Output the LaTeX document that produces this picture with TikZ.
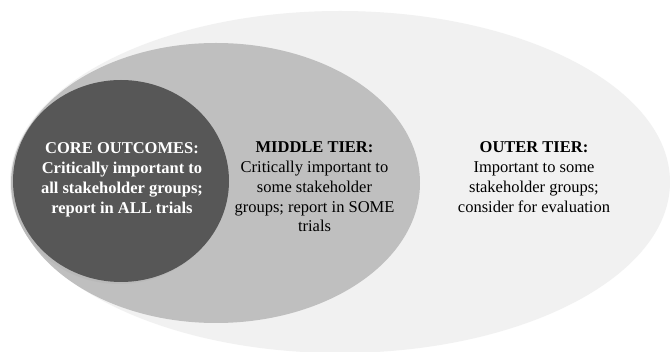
\documentclass[tikz,border=0pt]{standalone}
\usepackage{fontspec}
\setmainfont{Liberation Serif}
\definecolor{outerfill}{HTML}{F1F1F1}
\definecolor{midfill}{HTML}{BFBFBF}
\definecolor{corefill}{HTML}{575757}
\tikzset{
  tierlabel/.style={align=center, anchor=north, inner sep=0pt,
    font=\fontsize{16.5pt}{19.8pt}\selectfont},
}
\begin{document}
\begin{tikzpicture}[x=1pt,y=-1pt]
  \useasboundingbox (0,0) rectangle (670,352);
  \fill[white] (0,0) rectangle (670,352);
  \fill[outerfill] (340,182) ellipse [x radius=330, y radius=171];
  \fill[midfill] (216,183) ellipse [x radius=204, y radius=140];
  \fill[gray!55] (119,183) ellipse [x radius=108, y radius=101];
  \fill[corefill] (121,181) ellipse [x radius=108, y radius=101];
  \node[tierlabel, text=white, font=\bfseries\fontsize{16.5pt}{19.8pt}\selectfont] (core) at (122,142.5)
    {CORE OUTCOMES:\\Critically important to\\all stakeholder groups;\\report in ALL trials};
  \node[tierlabel] (middle) at (314.5,141.7)
    {\textbf{MIDDLE TIER:}\\Critically important to\\some stakeholder\\groups; report in SOME\\trials};
  \node[tierlabel] (outer) at (534,141.7)
    {\textbf{OUTER TIER:}\\Important to some\\stakeholder groups;\\consider for evaluation};
\end{tikzpicture}
\end{document}
